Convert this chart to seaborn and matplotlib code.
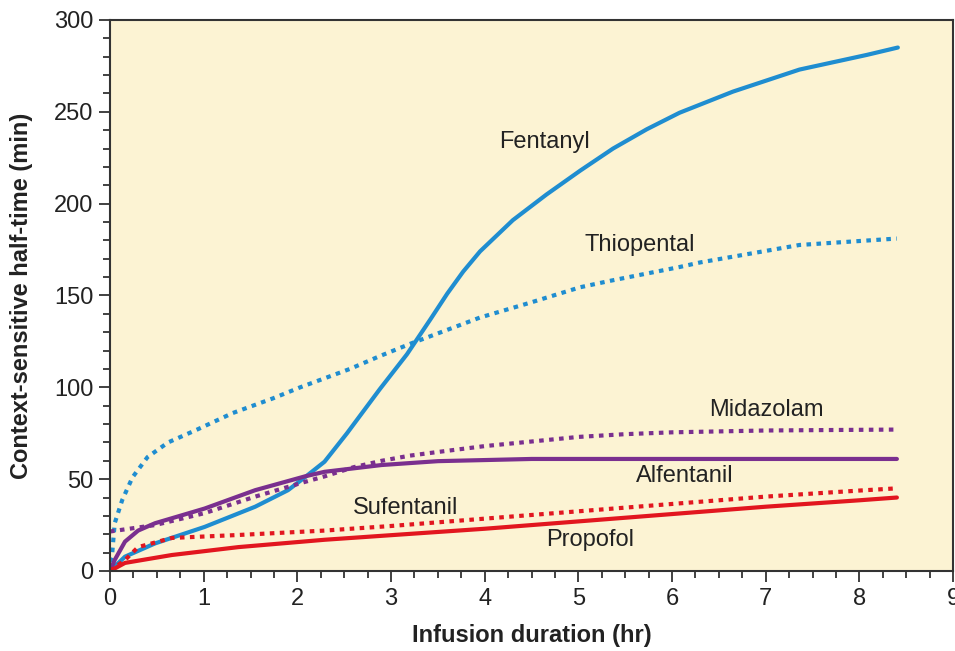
import matplotlib
matplotlib.use("Agg")
import matplotlib.pyplot as plt
import seaborn as sns
import pandas as pd
from matplotlib.ticker import MultipleLocator

# ---- data ----
fentanyl_x = [0, 0.16, 0.48, 1.01, 1.55, 1.9, 2.08, 2.29, 2.53, 2.88, 3.17, 3.42, 3.6, 3.77, 3.95, 4.3, 4.66, 5.02, 5.37, 5.73, 6.08, 6.65, 7.36, 8.08, 8.41]
fentanyl_y = [0, 7.8, 15, 24, 35, 44, 51, 59.5, 75, 99, 118, 137, 151, 163, 174, 191, 205, 218, 230, 240.5, 249.5, 261, 273, 281, 285]

thiopental_x = [0, 0.02, 0.05, 0.13, 0.24, 0.4, 0.62, 0.93, 1.31, 1.74, 2.03, 2.56, 2.88, 3.22, 3.95, 4.48, 5.02, 5.34, 6.08, 6.3, 7.36, 8.4]
thiopental_y = [5, 7.6, 26, 38.6, 51, 62, 70, 77, 86, 94, 100, 110, 117, 124, 138, 146, 154.5, 158, 165.5, 168, 177.5, 181]

midazolam_x = [0, 0.48, 1.01, 1.55, 2.08, 2.29, 2.6, 2.9, 3.2, 3.5, 4, 4.5, 5, 5.5, 6, 7, 8.4]
midazolam_y = [21.5, 25, 31.5, 40.5, 48.5, 51.5, 56.5, 60, 62.8, 64.8, 68, 70.5, 73, 74.5, 75.5, 76.5, 77]

alfentanil_x = [0, 0.05, 0.16, 0.3, 0.48, 1.01, 1.55, 2.08, 2.29, 2.9, 3.5, 4.5, 5.5, 8.4]
alfentanil_y = [0, 6, 16, 22, 26, 34, 44, 51.5, 54, 57.7, 59.8, 61, 61, 61]

sufentanil_x = [0, 0.16, 0.3, 0.66, 1.37, 2.29, 3, 4, 5, 6, 7, 8, 8.4]
sufentanil_y = [0, 6, 13, 18, 19.6, 22, 24.5, 28.5, 32.5, 36.5, 40.5, 43.8, 45]

propofol_x = [0, 0.16, 0.66, 1.37, 2.29, 3, 4, 5, 6, 7, 8, 8.4]
propofol_y = [0, 4.4, 8.7, 13, 17, 19.5, 23, 27, 31, 35, 38.5, 40]

label_names = ["Fentanyl", "Thiopental", "Midazolam", "Alfentanil", "Sufentanil", "Propofol"]
label_x = [4.64, 5.66, 7.01, 6.14, 3.15, 5.13]
label_y = [233.5, 177.5, 87.6, 51.7, 34.3, 16.9]

x_ticks = [0, 1, 2, 3, 4, 5, 6, 7, 8, 9]
y_ticks = [0, 50, 100, 150, 200, 250, 300]

BLUE = "#1f8dd0"
PURPLE = "#7a2f8f"
RED = "#e2161f"

series = [
    ("Fentanyl", fentanyl_x, fentanyl_y, BLUE, False),
    ("Thiopental", thiopental_x, thiopental_y, BLUE, True),
    ("Midazolam", midazolam_x, midazolam_y, PURPLE, True),
    ("Alfentanil", alfentanil_x, alfentanil_y, PURPLE, False),
    ("Sufentanil", sufentanil_x, sufentanil_y, RED, True),
    ("Propofol", propofol_x, propofol_y, RED, False),
]

sns.set_style("ticks")
plt.rcParams["font.family"] = ["Liberation Sans", "DejaVu Sans"]

fig = plt.figure(figsize=(9.55, 6.51), dpi=100)
ax = fig.add_axes([0.1152, 0.1229, 0.8828, 0.8464])
ax.set_facecolor("#fcf3d3")

for name, xs, ys, color, dotted in series:
    df = pd.DataFrame({"x": xs, "y": ys})
    sns.lineplot(data=df, x="x", y="y", ax=ax, color=color, linewidth=3.0,
                 estimator=None, sort=False)
    l = ax.lines[-1]
    l.set_solid_joinstyle("round")
    l.set_solid_capstyle("round")
    if dotted:
        l.set_linestyle((0, (1.1, 1.3)))
        l.set_dash_capstyle("butt")

for name, lx, ly in zip(label_names, label_x, label_y):
    ax.text(lx, ly, name, ha="center", va="center", fontsize=17, color="#222222")

ax.set_xlim(0, 9)
ax.set_ylim(0, 300)
ax.set_xticks(x_ticks)
ax.set_yticks(y_ticks)
ax.xaxis.set_minor_locator(MultipleLocator(0.25))
ax.yaxis.set_minor_locator(MultipleLocator(10))
ax.tick_params(axis="both", which="major", direction="out", length=8, width=1.3,
               color="#333333", labelsize=17, labelcolor="#222222", pad=4)
ax.tick_params(axis="both", which="minor", direction="out", length=5, width=1.3,
               color="#333333")
for sp in ax.spines.values():
    sp.set_visible(True)
    sp.set_color("#333333")
    sp.set_linewidth(1.5)

ax.set_xlabel("Infusion duration (hr)", fontsize=17, fontweight="bold", color="#222222", labelpad=10)
ax.set_ylabel("Context-sensitive half-time (min)", fontsize=17, fontweight="bold", color="#222222", labelpad=15)

fig.savefig("out.png", dpi=100, facecolor="white")
